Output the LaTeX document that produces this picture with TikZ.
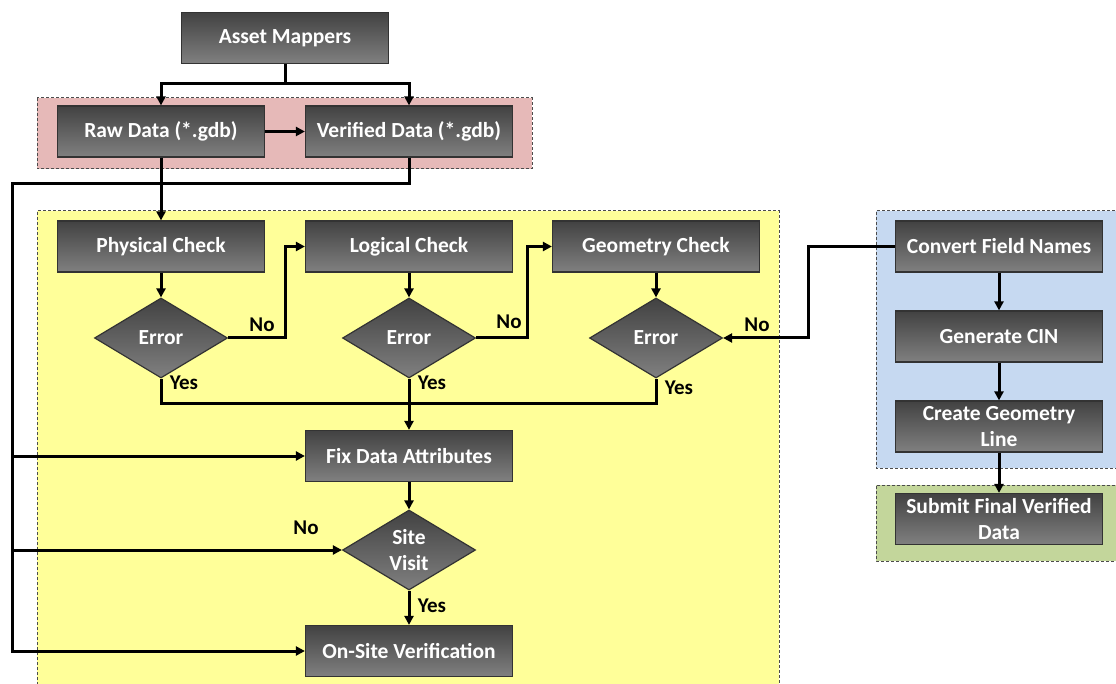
\documentclass[tikz,border=0pt]{standalone}
\usepackage{fontspec}
\setmainfont{Carlito}
\usetikzlibrary{shapes.geometric,arrows.meta,calc}
\definecolor{btop}{RGB}{66,66,66}
\definecolor{bbot}{RGB}{128,128,128}
\definecolor{pinkbg}{RGB}{230,185,184}
\definecolor{yelbg}{RGB}{255,255,153}
\definecolor{bluebg}{RGB}{198,217,241}
\definecolor{grnbg}{RGB}{195,214,155}
\tikzset{
  proc/.style={draw=black!80, line width=1.2pt, top color=btop, bottom color=bbot,
    text=white, font=\bfseries\fontsize{21.5}{25.5}\selectfont, minimum width=207,
    minimum height=51, inner sep=0, align=center},
  dec/.style={diamond, draw=black!80, line width=1.2pt, top color=btop, bottom color=bbot,
    text=white, font=\bfseries\fontsize{21.5}{25.5}\selectfont, aspect=1.66,
    minimum width=133, minimum height=80, inner sep=0, align=center},
  wire/.style={line width=3pt},
  conn/.style={line width=3pt, -{Triangle[length=9pt,width=9pt]}},
  lab/.style={font=\bfseries\fontsize{21}{25}\selectfont, text=black, inner sep=0},
  region/.style={draw=black!70, dash pattern=on 3pt off 2pt, line width=1pt}
}
\begin{document}
\begin{tikzpicture}[x=1pt,y=-1pt]
\useasboundingbox (0,0) rectangle (1116,684);
% regions
\fill[pinkbg] (37,98) rectangle (532,169);
\draw[region] (37,98) rectangle (532,169);
\fill[yelbg] (37,211) rectangle (779,690);
\draw[region] (37,690) -- (37,211) -- (779,211) -- (779,690);
\fill[bluebg] (876,211) rectangle (1120,468);
\draw[region] (1120,211) -- (876,211) -- (876,468) -- (1120,468);
\fill[grnbg] (876,485) rectangle (1120,561);
\draw[region] (1120,485) -- (876,485) -- (876,561) -- (1120,561);
% nodes
\node[proc] (am) at (285,38) {Asset Mappers};
\node[proc] (raw) at (161,131.5) {Raw Data (*.gdb)};
\node[proc] (ver) at (409,131.5) {Verified Data (*.gdb)};
\node[proc] (phys) at (161,246.5) {Physical Check};
\node[proc] (log) at (409,246.5) {Logical Check};
\node[proc] (geo) at (656,246.5) {Geometry Check};
\node[dec] (e1) at (161,338) {Error};
\node[dec] (e2) at (409,338) {Error};
\node[dec] (e3) at (656,338) {Error};
\node[proc] (fix) at (409,456) {Fix Data Attributes};
\node[dec] (site) at (409,550) {Site\\Visit};
\node[proc] (ons) at (409,651) {On-Site Verification};
\node[proc] (cfn) at (999,246.5) {Convert Field Names};
\node[proc] (cin) at (999,336.5) {Generate CIN};
\node[proc] (cgl) at (999,426.5) {Create Geometry\\Line};
\node[proc] (sub) at (999,519) {Submit Final Verified\\Data};
% connectors
\coordinate (j1) at (285,84);
\draw[wire] (am.south) -- (j1);
\draw[conn] (j1) -| (raw.north);
\draw[conn] (j1) -| (ver.north);
\draw[conn] (raw) -- (ver);
\draw[conn] (raw) -- (phys);
\coordinate (r0) at (12,184);
\draw[conn] (ver.south) |- (r0) |- (fix.west);
\draw[conn] (r0) |- (site.west);
\draw[conn] (r0) |- (ons.west);
\draw[conn] (phys) -- (e1);
\draw[conn] (log) -- (e2);
\draw[conn] (geo) -- (e3);
\draw[conn] (e1.east) -- ++(57,0) |- (log.west);
\draw[conn] (e2.east) -- ++(51,0) |- (geo.west);
\coordinate (ym) at (161,403);
\draw[wire] (e1.south) -- (ym) -| (e3.south);
\draw[conn] (e2.south) -- (fix.north);
\draw[conn] (fix) -- (site);
\draw[conn] (site) -- (ons);
\draw[conn] (cfn.west) -- ++(-86,0) |- (e3.east);
\draw[conn] (cfn) -- (cin);
\draw[conn] (cin) -- (cgl);
\draw[conn] (cgl) -- (sub);
% labels
\node[lab] (n1) at (262,325) {No};
\node[lab] (n2) at (509,322) {No};
\node[lab] (n3) at (757,325) {No};
\node[lab] (y1) at (184,383) {Yes};
\node[lab] (y2) at (432,383) {Yes};
\node[lab] (y3) at (679,388) {Yes};
\node[lab] (n4) at (306,528) {No};
\node[lab] (y4) at (432,606) {Yes};
\end{tikzpicture}
\end{document}
